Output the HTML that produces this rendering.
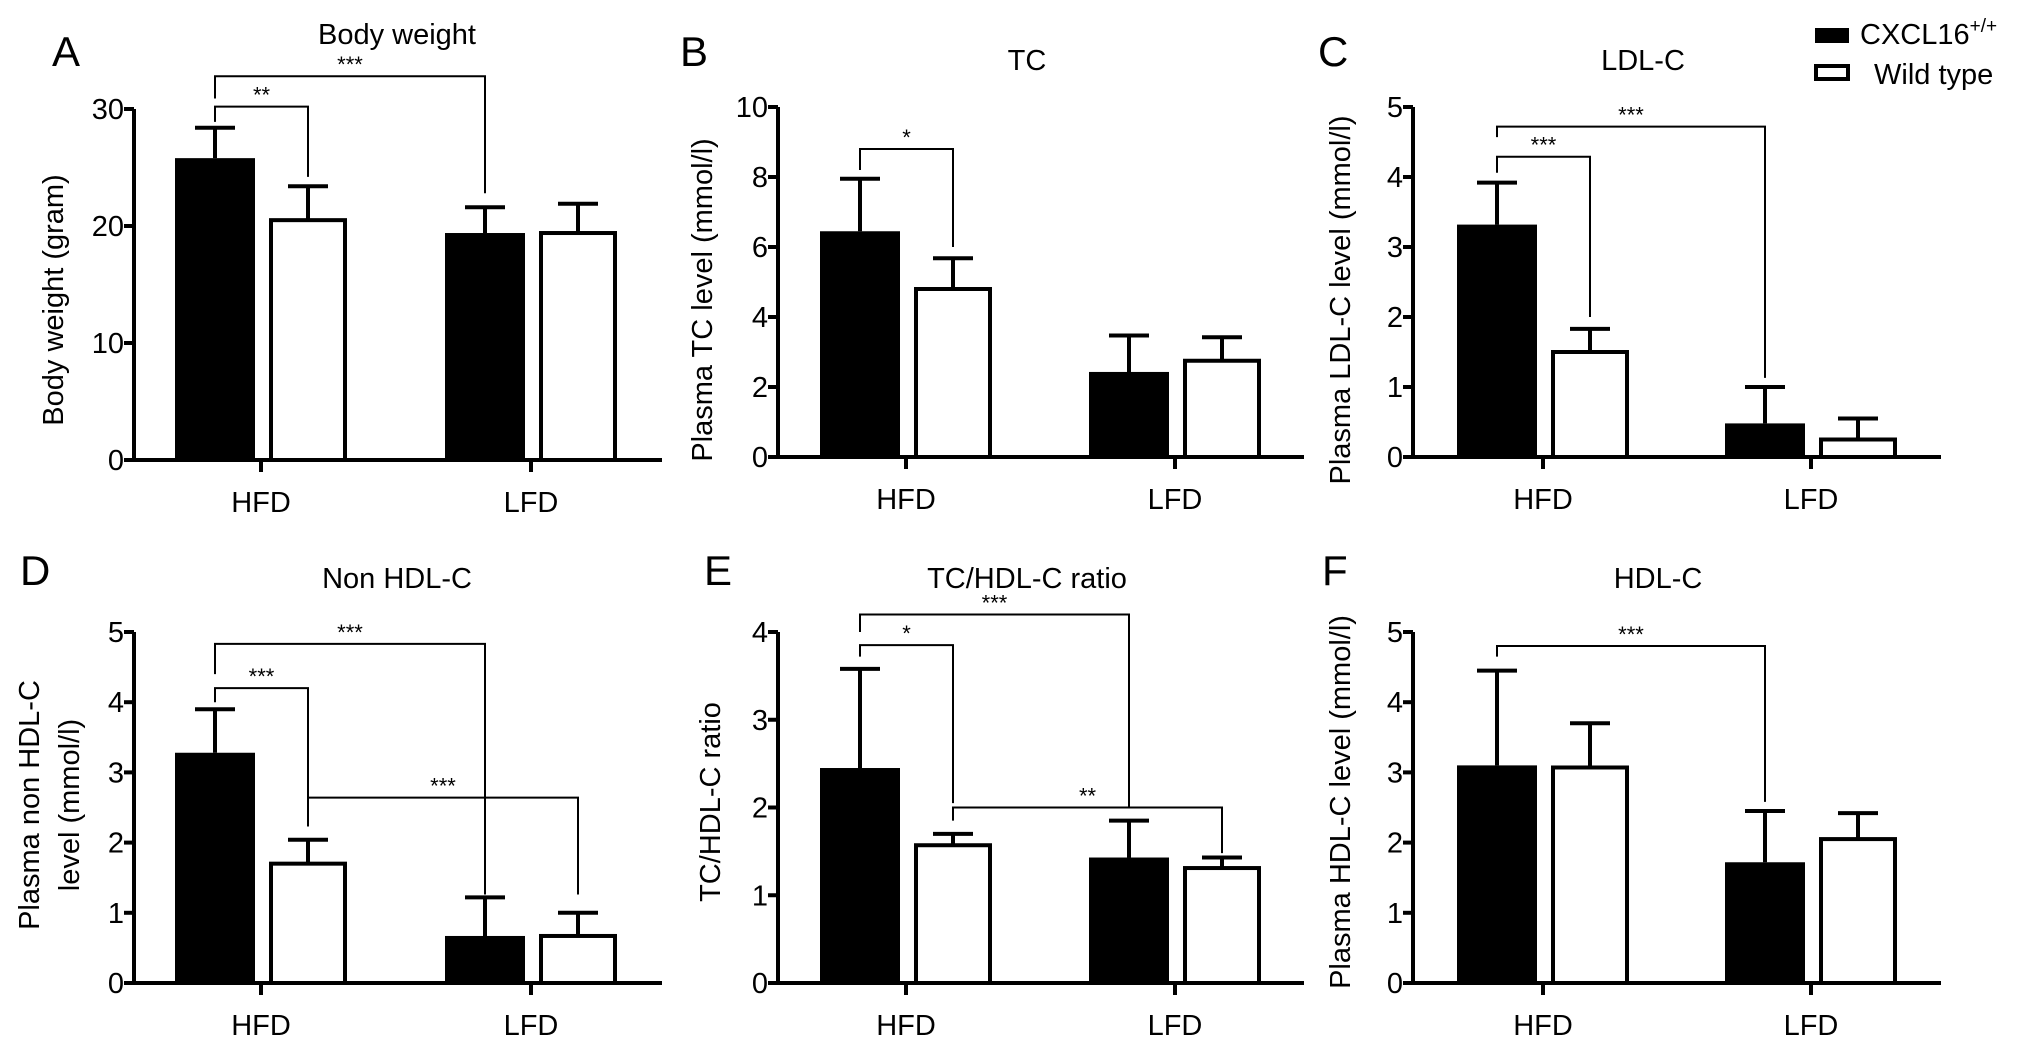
<!DOCTYPE html>
<html><head><meta charset="utf-8">
<style>
html,body{margin:0;padding:0;background:#fff;}
svg{display:block;font-family:"Liberation Sans",Arial,sans-serif;}
</style></head>
<body>
<svg id="fig" width="2032" height="1044" viewBox="0 0 2032 1044">
  <g>
    <rect x="1815" y="28" width="34" height="15" fill="#000"/>
    <text x="1860" y="44" font-size="29">CXCL16<tspan dy="-12" font-size="19">+/+</tspan></text>
    <rect x="1816" y="66" width="32" height="13" fill="#fff" stroke="#000" stroke-width="4"/>
    <text x="1874" y="84" font-size="29">Wild type</text>
  </g>
</svg>
<script>
// Shared categories
const categories = ["HFD", "LFD"];
const seriesNames = ["CXCL16+/+", "Wild type"];

// Panel A: Body weight
const aBlack = [25.8, 19.4];
const aBlackErr = [28.4, 21.6];
const aWhite = [20.5, 19.4];
const aWhiteErr = [23.4, 21.9];
const aTicks = [0, 10, 20, 30];

// Panel B: TC
const bBlack = [6.45, 2.43];
const bBlackErr = [7.95, 3.47];
const bWhite = [4.8, 2.75];
const bWhiteErr = [5.68, 3.42];
const bTicks = [0, 2, 4, 6, 8, 10];

// Panel C: LDL-C
const cBlack = [3.32, 0.48];
const cBlackErr = [3.92, 1.0];
const cWhite = [1.5, 0.25];
const cWhiteErr = [1.83, 0.55];
const cTicks = [0, 1, 2, 3, 4, 5];

// Panel D: Non HDL-C
const dBlack = [3.28, 0.67];
const dBlackErr = [3.9, 1.22];
const dWhite = [1.7, 0.67];
const dWhiteErr = [2.04, 1.0];
const dTicks = [0, 1, 2, 3, 4, 5];

// Panel E: TC/HDL-C ratio
const eBlack = [2.45, 1.43];
const eBlackErr = [3.58, 1.85];
const eWhite = [1.57, 1.31];
const eWhiteErr = [1.7, 1.43];
const eTicks = [0, 1, 2, 3, 4];

// Panel F: HDL-C
const fBlack = [3.1, 1.72];
const fBlackErr = [4.45, 2.45];
const fWhite = [3.07, 2.05];
const fWhiteErr = [3.7, 2.42];
const fTicks = [0, 1, 2, 3, 4, 5];

const NS = "http://www.w3.org/2000/svg";
const svg = document.getElementById("fig");

function mk(tag, attrs, parent) {
  const e = document.createElementNS(NS, tag);
  for (const k in attrs) e.setAttribute(k, attrs[k]);
  parent.appendChild(e);
  return e;
}

// bracket spec: [fromBar, toBar, levelY(value), leftDropValue, rightDropValue, label]
// bar index: 0=HFD black,1=HFD white,2=LFD black,3=LFD white
function drawPanel(p) {
  const g = mk("g", {}, svg);
  
  
  const maxV = p.ticks[p.ticks.length - 1];
  const yS = v => p.y0 - (v / maxV) * (p.y0 - p.yTop);
  const groupX = [p.cx0, p.cx0 + p.gap];
  const barCenter = i => {
    const c = groupX[Math.floor(i / 2)];
    return i % 2 === 0 ? c - 46 : c + 47;
  };

  // letter
  const L = mk("text", {x: p.lx, y: p.ly, "font-size": 42}, g);
  L.textContent = p.id.toUpperCase();
  
  
  // title
  const T = mk("text", {x: p.tx, y: p.ty, "font-size": 29, "text-anchor": "middle"}, g);
  T.textContent = p.title;
  
  
  // y title
  const yt = mk("text", {transform: "translate(" + p.ytx + "," + p.yty + ") rotate(-90)", "font-size": 29, "text-anchor": "middle"}, g);
  
  
  p.ytitle.forEach((line, i) => {
    const ts = mk("tspan", {x: 0, dy: i === 0 ? (p.ytitle.length > 1 ? -8 : 0) : 40}, yt);
    ts.textContent = line;
  });

  // bars
  const blacks = p.black, whites = p.white;
  for (let k = 0; k < 2; k++) {
    const bc = barCenter(2 * k), wc = barCenter(2 * k + 1);
    const bt = yS(blacks[k]);
    const rb = mk("rect", {x: bc - 40, y: bt, width: 80, height: p.y0 - bt, fill: "#000"}, g);
    
    
    const et = yS(p.blackErr[k]);
    const eb = mk("path", {d: "M" + bc + "," + bt + "V" + et + "M" + (bc - 20) + "," + et + "H" + (bc + 20), stroke: "#000", "stroke-width": 4, fill: "none"}, g);
    
    

    const wt = yS(whites[k]);
    const ew = yS(p.whiteErr[k]);
    const ewl = mk("path", {d: "M" + wc + "," + wt + "V" + ew + "M" + (wc - 20) + "," + ew + "H" + (wc + 20), stroke: "#000", "stroke-width": 4, fill: "none"}, g);
    
    
    const rw = mk("rect", {x: wc - 37, y: wt, width: 74, height: p.y0 - wt, fill: "#fff", stroke: "#000", "stroke-width": 4}, g);
    
    
  }

  // axes
  const ya = mk("line", {x1: p.ax, y1: p.yTop, x2: p.ax, y2: p.y0 + 2, stroke: "#000", "stroke-width": 4}, g);
  
  
  const xa = mk("line", {x1: p.ax - 10, y1: p.y0, x2: p.xEnd, y2: p.y0, stroke: "#000", "stroke-width": 4}, g);
  
  
  p.ticks.forEach(t => {
    const y = yS(t);
    mk("line", {x1: p.ax - 10, y1: y, x2: p.ax, y2: y, stroke: "#000", "stroke-width": 4}, g);
    const tl = mk("text", {x: p.ax - 10, y: y + 10, "font-size": 29, "text-anchor": "end"}, g);
    tl.textContent = t;
    
    
  });
  categories.forEach((c, k) => {
    const x = groupX[k];
    mk("line", {x1: x, y1: p.y0, x2: x, y2: p.y0 + 12, stroke: "#000", "stroke-width": 4}, g);
    const cl = mk("text", {x: x, y: p.y0 + 52, "font-size": 29, "text-anchor": "middle"}, g);
    cl.textContent = c;
    
    
  });

  // significance brackets
  p.brackets.forEach((b, i) => {
    const x1 = barCenter(b[0]), x2 = barCenter(b[1]);
    const yl = yS(b[2]), y1 = yS(b[3]), y2 = yS(b[4]);
    const br = mk("path", {d: "M" + x1 + "," + y1 + "V" + yl + "H" + x2 + "V" + y2, stroke: "#000", "stroke-width": 2, fill: "none"}, g);
    
    
    const st = mk("text", {x: (x1 + x2) / 2, y: yl - 4, "font-size": 22, "text-anchor": "middle"}, g);
    st.textContent = b[5];
    
    
  });
}

drawPanel({id: "a", title: "Body weight", ytitle: ["Body weight (gram)"], ticks: aTicks,
  black: aBlack, blackErr: aBlackErr, white: aWhite, whiteErr: aWhiteErr,
  ax: 134, y0: 460, yTop: 109, xEnd: 662, cx0: 261, gap: 270,
  lx: 52, ly: 66, tx: 397, ty: 44, ytx: 63, yty: 300,
  brackets: [[0, 2, 32.8, 30.9, 22.8, "***"], [0, 1, 30.2, 28.9, 24.2, "**"]]});

drawPanel({id: "b", title: "TC", ytitle: ["Plasma TC level (mmol/l)"], ticks: bTicks,
  black: bBlack, blackErr: bBlackErr, white: bWhite, whiteErr: bWhiteErr,
  ax: 778, y0: 457, yTop: 107, xEnd: 1304, cx0: 906, gap: 269,
  lx: 680, ly: 66, tx: 1027, ty: 70, ytx: 712, yty: 300,
  brackets: [[0, 1, 8.8, 8.2, 6.0, "*"]]});

drawPanel({id: "c", title: "LDL-C", ytitle: ["Plasma LDL-C level (mmol/l)"], ticks: cTicks,
  black: cBlack, blackErr: cBlackErr, white: cWhite, whiteErr: cWhiteErr,
  ax: 1413, y0: 457, yTop: 107, xEnd: 1941, cx0: 1543, gap: 268,
  lx: 1318, ly: 66, tx: 1643, ty: 70, ytx: 1350, yty: 300,
  brackets: [[0, 2, 4.72, 4.57, 1.13, "***"], [0, 1, 4.29, 4.06, 2.0, "***"]]});

drawPanel({id: "d", title: "Non HDL-C", ytitle: ["Plasma non HDL-C", "level (mmol/l)"], ticks: dTicks,
  black: dBlack, blackErr: dBlackErr, white: dWhite, whiteErr: dWhiteErr,
  ax: 134, y0: 983, yTop: 632, xEnd: 662, cx0: 261, gap: 270,
  lx: 20, ly: 585, tx: 397, ty: 588, ytx: 47, yty: 805,
  brackets: [[0, 2, 4.83, 4.4, 1.26, "***"], [0, 1, 4.2, 4.0, 2.23, "***"], [1, 3, 2.64, 2.42, 1.26, "***"]]});

drawPanel({id: "e", title: "TC/HDL-C ratio", ytitle: ["TC/HDL-C ratio"], ticks: eTicks,
  black: eBlack, blackErr: eBlackErr, white: eWhite, whiteErr: eWhiteErr,
  ax: 778, y0: 983, yTop: 632, xEnd: 1304, cx0: 906, gap: 269,
  lx: 704, ly: 585, tx: 1027, ty: 588, ytx: 720, yty: 802,
  brackets: [[0, 2, 4.2, 4.0, 2.0, "***"], [0, 1, 3.85, 3.72, 2.05, "*"], [1, 3, 2.0, 1.85, 1.48, "**"]]});

drawPanel({id: "f", title: "HDL-C", ytitle: ["Plasma HDL-C level (mmol/l)"], ticks: fTicks,
  black: fBlack, blackErr: fBlackErr, white: fWhite, whiteErr: fWhiteErr,
  ax: 1413, y0: 983, yTop: 632, xEnd: 1941, cx0: 1543, gap: 268,
  lx: 1322, ly: 585, tx: 1658, ty: 588, ytx: 1350, yty: 802,
  brackets: [[0, 2, 4.8, 4.65, 2.58, "***"]]});
</script>
</body></html>
